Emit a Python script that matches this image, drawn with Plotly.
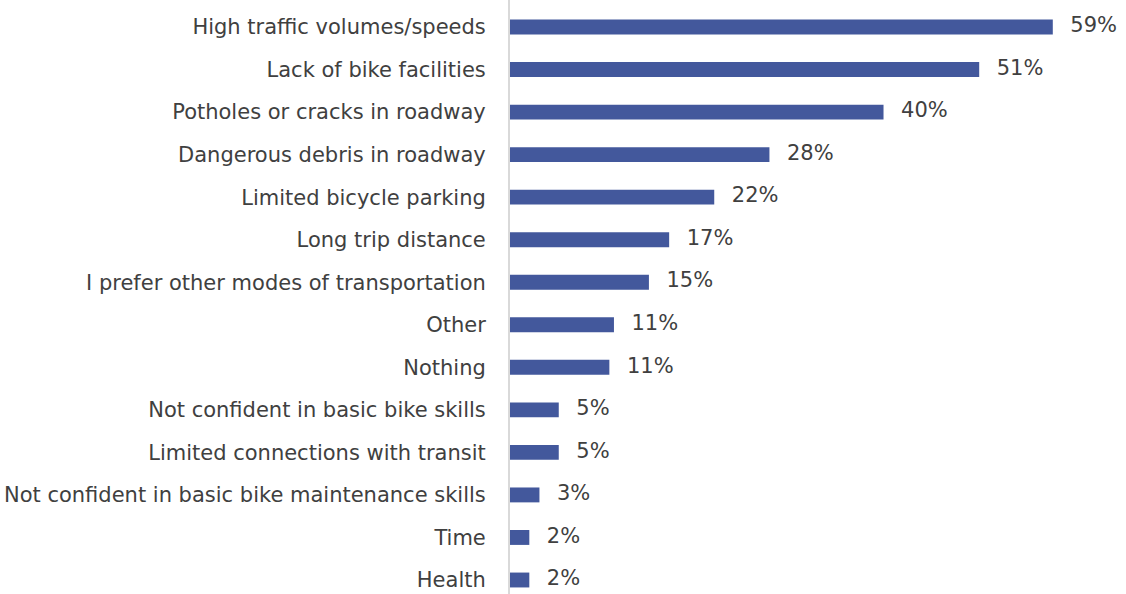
import plotly.graph_objects as go

categories = [
    "High traffic volumes/speeds",
    "Lack of bike facilities",
    "Potholes or cracks in roadway",
    "Dangerous debris in roadway",
    "Limited bicycle parking",
    "Long trip distance",
    "I prefer other modes of transportation",
    "Other",
    "Nothing",
    "Not confident in basic bike skills",
    "Limited connections with transit",
    "Not confident in basic bike maintenance skills",
    "Time",
    "Health",
]
values = [0.590, 0.510, 0.406, 0.282, 0.222, 0.173, 0.151, 0.113, 0.108, 0.053, 0.053, 0.032, 0.021, 0.021]
labels = ["59%", "51%", "40%", "28%", "22%", "17%", "15%", "11%", "11%", "5%", "5%", "3%", "2%", "2%"]

FONT = "'DejaVu Sans', sans-serif"
TEXT_COLOR = "#404040"

fig = go.Figure()
fig.add_trace(
    go.Bar(
        y=categories,
        x=values,
        orientation="h",
        marker=dict(color="#43589C", line=dict(width=0)),
        width=0.35,
        hoverinfo="skip",
    )
)
fig.add_trace(
    go.Scatter(
        y=categories,
        x=values,
        mode="text",
        text=["\u00a0\u00a0\u2009" + t for t in labels],
        textposition="middle right",
        textfont=dict(family=FONT, size=21, color=TEXT_COLOR),
        cliponaxis=False,
        hoverinfo="skip",
    )
)

fig.update_layout(
    width=1126,
    height=594,
    margin=dict(l=510, r=18, t=0, b=0, autoexpand=False),
    paper_bgcolor="white",
    plot_bgcolor="white",
    showlegend=False,
    xaxis=dict(range=[0, 0.65], visible=False),
    yaxis=dict(
        categoryorder="array",
        categoryarray=categories,
        range=[13.329, -0.635],
        automargin=False,
        showline=True,
        linecolor="#D9D9D9",
        linewidth=2,
        ticks="outside",
        ticklen=18,
        tickcolor="rgba(0,0,0,0)",
        tickfont=dict(family=FONT, size=21, color=TEXT_COLOR),
        showgrid=False,
        zeroline=False,
    ),
)

fig.write_html(
    "out.html",
    config={"displayModeBar": False},
    post_script="document.body.style.margin='0';document.body.style.overflow='hidden';",
)
